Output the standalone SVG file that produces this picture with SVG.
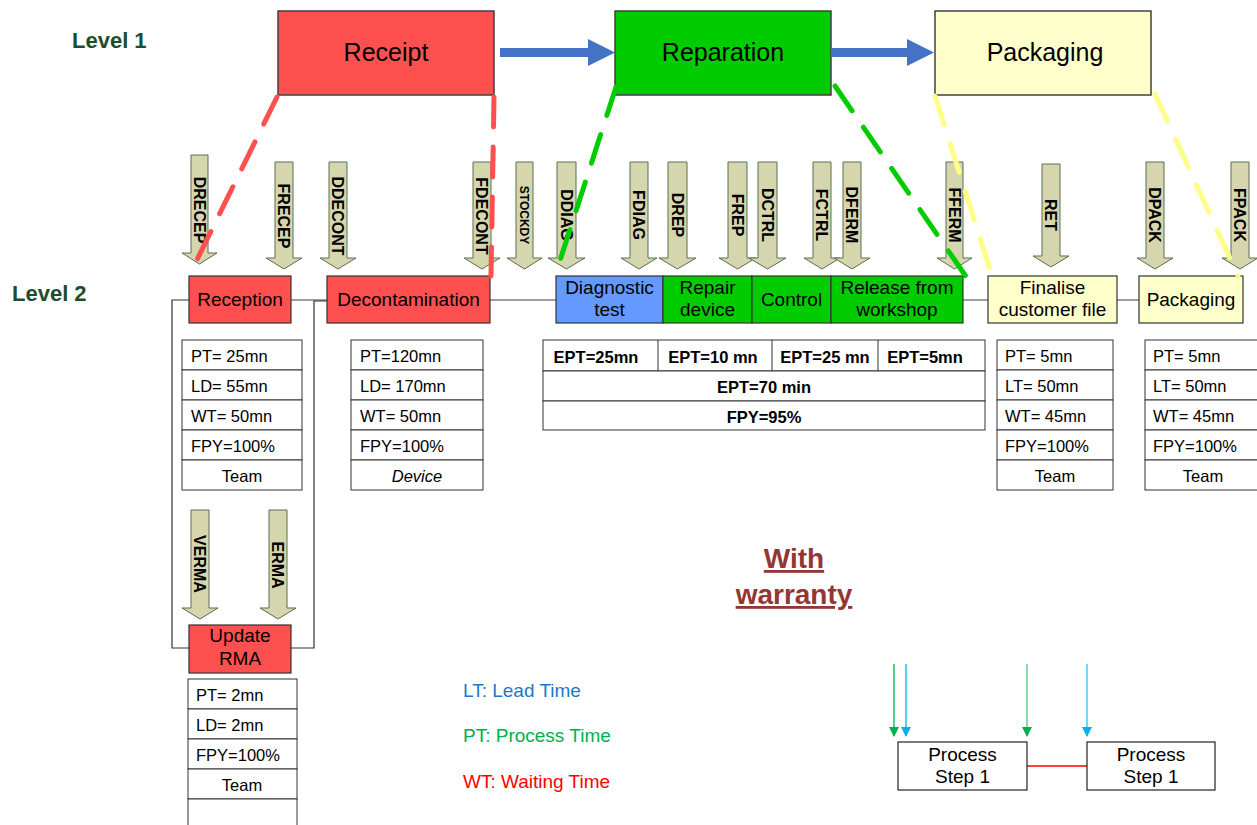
<svg xmlns="http://www.w3.org/2000/svg" width="1257" height="825" viewBox="0 0 1257 825">
<style>
text{font-family:"Liberation Sans",Arial,sans-serif;fill:#000}
.lvl{font-size:22px;font-weight:bold;fill:#1E4D2B}
.l1{fill-opacity:1;stroke:#404040;stroke-width:1.5}
.t1{font-size:25px;text-anchor:middle}
.l2{stroke:#333;stroke-width:1.2}
.t2{font-size:19px;text-anchor:middle}
.red{fill:#FF5050}
.grn{fill:#00CC00}
.blu{fill:#6699FF}
.yel{fill:#FFFFCC}
.cell{fill:#fff;stroke:#333;stroke-width:1}
.ct{font-size:16.5px}
.cc{font-size:16.5px;text-anchor:middle}
.bt{font-size:16.5px;font-weight:bold;text-anchor:middle}
.arr{fill:#D6D6AE;stroke:#5A6E4E;stroke-width:1}
.at{font-size:16px;font-weight:bold;text-anchor:middle}
.ats{font-size:12px;font-weight:bold;text-anchor:middle}
.link{stroke:#808080;stroke-width:1.5;fill:none}
.frame{stroke:#333;stroke-width:1.2;fill:none}
.dash{fill:none;stroke-width:5;stroke-linecap:round;stroke-dasharray:30 20}
.bigarr{fill:#4472C4}
.leg{font-size:19px}
</style>
<defs>
<marker id="mg" markerWidth="10" markerHeight="10" refX="9" refY="5" orient="auto" markerUnits="userSpaceOnUse" viewBox="0 0 10 10"><path d="M0,0 L10,5 L0,10 Z" fill="#00B050"/></marker>
<marker id="mb" markerWidth="10" markerHeight="10" refX="9" refY="5" orient="auto" markerUnits="userSpaceOnUse" viewBox="0 0 10 10"><path d="M0,0 L10,5 L0,10 Z" fill="#00B0F0"/></marker>
</defs>
<rect width="1257" height="825" fill="#fff"/>

<text class="lvl" x="72" y="48">Level 1</text>
<text class="lvl" x="12" y="301">Level 2</text>

<!-- Level 1 nodes -->
<g id="receipt"><rect class="l1 red" x="278" y="11" width="216" height="84"/><text class="t1" x="386" y="61">Receipt</text></g>
<g id="reparation"><rect class="l1 grn" x="615" y="11" width="216" height="84"/><text class="t1" x="723" y="61">Reparation</text></g>
<g id="packaging1"><rect class="l1 yel" x="935" y="11" width="216" height="84"/><text class="t1" x="1045" y="61">Packaging</text></g>

<g id="connectors">
<path class="bigarr" d="M500,48 H588 V39 L615,52.5 L588,66 V57 H500 Z"/>
<path class="bigarr" d="M831,48 H907 V39 L934,52.5 L907,66 V57 H831 Z"/>
<path class="link" d="M291,300 H327 M490,300 H556 M963,300 H988 M1117,300 H1139"/>
<path class="frame" d="M189,300 H172 V648 H189 M291,648 H314 V301 H327"/>
<line x1="1027" y1="766" x2="1087" y2="766" stroke="#FF0000" stroke-width="1.5"/>
<line x1="894" y1="664" x2="894" y2="736" stroke="#00B050" stroke-width="1.3" marker-end="url(#mg)"/>
<line x1="906" y1="664" x2="906" y2="736" stroke="#00B0F0" stroke-width="1.3" marker-end="url(#mb)"/>
<line x1="1027" y1="664" x2="1027" y2="736" stroke="#00B050" stroke-width="1.3" stroke-opacity="0.7" marker-end="url(#mg)"/>
<line x1="1087" y1="664" x2="1087" y2="736" stroke="#00B0F0" stroke-width="1.3" stroke-opacity="0.8" marker-end="url(#mb)"/>
</g>

<!-- Block arrows -->
<g id="arrows">
<g id="a-drecep"><path class="arr" d="M191,155 H208 V253 H217 L199.5,264 L182,253 H191 Z"/><text class="at" transform="translate(199.5,210) rotate(90)" y="5.7">DRECEP</text></g>
<g id="a-frecep"><path class="arr" d="M275,162 H293 V258 H302 L284,269 L266,258 H275 Z"/><text class="at" transform="translate(284,216) rotate(90)" y="5.7">FRECEP</text></g>
<g id="a-ddecont"><path class="arr" d="M329,162 H347 V258 H356 L338,269 L320,258 H329 Z"/><text class="at" transform="translate(338,216) rotate(90)" y="5.7">DDECONT</text></g>
<g id="a-fdecont"><path class="arr" d="M473,162 H491 V258 H500 L482,269 L464,258 H473 Z"/><text class="at" transform="translate(482,216) rotate(90)" y="5.7">FDECONT</text></g>
<g id="a-stockdy"><path class="arr" d="M516,162 H533 V258 H542 L524.5,269 L507,258 H516 Z"/><text class="ats" transform="translate(524.5,215) rotate(90)" y="4.3">STOCKDY</text></g>
<g id="a-ddiag"><path class="arr" d="M557,162 H576 V258 H585 L566.5,269 L548,258 H557 Z"/><text class="at" transform="translate(566.5,215) rotate(90)" y="5.7">DDIAG</text></g>
<g id="a-fdiag"><path class="arr" d="M630,162 H648 V258 H657 L639,269 L621,258 H630 Z"/><text class="at" transform="translate(639,215) rotate(90)" y="5.7">FDIAG</text></g>
<g id="a-drep"><path class="arr" d="M668,162 H687 V258 H696 L677.5,269 L659,258 H668 Z"/><text class="at" transform="translate(677.5,215) rotate(90)" y="5.7">DREP</text></g>
<g id="a-frep"><path class="arr" d="M728,162 H747 V258 H756 L737.5,269 L719,258 H728 Z"/><text class="at" transform="translate(737.5,215) rotate(90)" y="5.7">FREP</text></g>
<g id="a-dctrl"><path class="arr" d="M758,162 H777 V258 H786 L767.5,269 L749,258 H758 Z"/><text class="at" transform="translate(767.5,215) rotate(90)" y="5.7">DCTRL</text></g>
<g id="a-fctrl"><path class="arr" d="M813,162 H831 V258 H840 L822,269 L804,258 H813 Z"/><text class="at" transform="translate(822,215) rotate(90)" y="5.7">FCTRL</text></g>
<g id="a-dferm"><path class="arr" d="M843,162 H861 V258 H870 L852,269 L834,258 H843 Z"/><text class="at" transform="translate(852,215) rotate(90)" y="5.7">DFERM</text></g>
<g id="a-fferm"><path class="arr" d="M946,162 H963 V258 H972 L954.5,269 L937,258 H946 Z"/><text class="at" transform="translate(954.5,215) rotate(90)" y="5.7">FFERM</text></g>
<g id="a-ret"><path class="arr" d="M1042,164 H1060 V256 H1069 L1051,267 L1033,256 H1042 Z"/><text class="at" transform="translate(1051,215) rotate(90)" y="5.7">RET</text></g>
<g id="a-dpack"><path class="arr" d="M1146,162 H1164 V258 H1173 L1155,269 L1137,258 H1146 Z"/><text class="at" transform="translate(1155,215) rotate(90)" y="5.7">DPACK</text></g>
<g id="a-fpack"><path class="arr" d="M1231,162 H1249 V258 H1258 L1240,269 L1222,258 H1231 Z"/><text class="at" transform="translate(1240,215) rotate(90)" y="5.7">FPACK</text></g>
<g id="a-verma"><path class="arr" d="M191,510 H209 V608 H218 L200,619 L182,608 H191 Z"/><text class="at" transform="translate(200,564) rotate(90)" y="5.7">VERMA</text></g>
<g id="a-erma"><path class="arr" d="M269,510 H287 V608 H296 L278,619 L260,608 H269 Z"/><text class="at" transform="translate(278,565) rotate(90)" y="5.7">ERMA</text></g>
</g>

<!-- Level 2 nodes -->
<g id="reception"><rect class="l2 red" x="189" y="276" width="102" height="47"/><text class="t2" x="240" y="306">Reception</text></g>
<g id="decontamination"><rect class="l2 red" x="327" y="276" width="163" height="47"/><text class="t2" x="408.5" y="306">Decontamination</text></g>
<g id="diagnostic"><rect class="l2 blu" x="556" y="276" width="107" height="47"/><text class="t2" x="609.5" y="294">Diagnostic</text><text class="t2" x="609.5" y="316">test</text></g>
<g id="repair"><rect class="l2 grn" x="663" y="276" width="89" height="47"/><text class="t2" x="707.5" y="294">Repair</text><text class="t2" x="707.5" y="316">device</text></g>
<g id="control"><rect class="l2 grn" x="752" y="276" width="79" height="47"/><text class="t2" x="791.5" y="306">Control</text></g>
<g id="release"><rect class="l2 grn" x="831" y="276" width="132" height="47"/><text class="t2" x="897" y="294">Release from</text><text class="t2" x="897" y="316">workshop</text></g>
<g id="finalise"><rect class="l2 yel" x="988" y="276" width="129" height="47"/><text class="t2" x="1052.5" y="294">Finalise</text><text class="t2" x="1052.5" y="316">customer file</text></g>
<g id="packaging2"><rect class="l2 yel" x="1139" y="276" width="104" height="47"/><text class="t2" x="1191" y="306">Packaging</text></g>
<g id="update-rma"><rect class="l2 red" x="189" y="625" width="102" height="48"/><text class="t2" x="240" y="642">Update</text><text class="t2" x="240" y="665">RMA</text></g>

<!-- Tables -->
<g id="tbl-reception">
<rect class="cell" x="182" y="340" width="120" height="30"/><rect class="cell" x="182" y="370" width="120" height="30"/><rect class="cell" x="182" y="400" width="120" height="30"/><rect class="cell" x="182" y="430" width="120" height="30"/><rect class="cell" x="182" y="460" width="120" height="30"/>
<text class="ct" x="191" y="362">PT= 25mn</text><text class="ct" x="191" y="392">LD= 55mn</text><text class="ct" x="191" y="422">WT= 50mn</text><text class="ct" x="191" y="452">FPY=100%</text><text class="cc" x="242" y="482">Team</text>
</g>
<g id="tbl-decon">
<rect class="cell" x="351" y="340" width="132" height="30"/><rect class="cell" x="351" y="370" width="132" height="30"/><rect class="cell" x="351" y="400" width="132" height="30"/><rect class="cell" x="351" y="430" width="132" height="30"/><rect class="cell" x="351" y="460" width="132" height="30"/>
<text class="ct" x="360" y="362">PT=120mn</text><text class="ct" x="360" y="392">LD= 170mn</text><text class="ct" x="360" y="422">WT= 50mn</text><text class="ct" x="360" y="452">FPY=100%</text><text class="cc" x="417" y="482" font-style="italic">Device</text>
</g>
<g id="tbl-ept">
<rect class="cell" x="543" y="340" width="442" height="31"/><rect class="cell" x="543" y="371" width="442" height="30"/><rect class="cell" x="543" y="401" width="442" height="29"/>
<path d="M658,340 V371 M772,340 V371 M878,340 V371" stroke="#333" stroke-width="1"/>
<text class="bt" x="596" y="363">EPT=25mn</text><text class="bt" x="713" y="363">EPT=10 mn</text><text class="bt" x="825" y="363">EPT=25 mn</text><text class="bt" x="925" y="363">EPT=5mn</text>
<text class="bt" x="764" y="393">EPT=70 min</text><text class="bt" x="764" y="423">FPY=95%</text>
</g>
<g id="tbl-finalise">
<rect class="cell" x="997" y="340" width="116" height="30"/><rect class="cell" x="997" y="370" width="116" height="30"/><rect class="cell" x="997" y="400" width="116" height="30"/><rect class="cell" x="997" y="430" width="116" height="30"/><rect class="cell" x="997" y="460" width="116" height="30"/>
<text class="ct" x="1005" y="362">PT= 5mn</text><text class="ct" x="1005" y="392">LT= 50mn</text><text class="ct" x="1005" y="422">WT= 45mn</text><text class="ct" x="1005" y="452">FPY=100%</text><text class="cc" x="1055" y="482">Team</text>
</g>
<g id="tbl-packaging">
<rect class="cell" x="1145" y="340" width="120" height="30"/><rect class="cell" x="1145" y="370" width="120" height="30"/><rect class="cell" x="1145" y="400" width="120" height="30"/><rect class="cell" x="1145" y="430" width="120" height="30"/><rect class="cell" x="1145" y="460" width="120" height="30"/>
<text class="ct" x="1153" y="362">PT= 5mn</text><text class="ct" x="1153" y="392">LT= 50mn</text><text class="ct" x="1153" y="422">WT= 45mn</text><text class="ct" x="1153" y="452">FPY=100%</text><text class="cc" x="1203" y="482">Team</text>
</g>
<g id="tbl-rma">
<rect class="cell" x="188" y="679" width="109" height="30"/><rect class="cell" x="188" y="709" width="109" height="30"/><rect class="cell" x="188" y="739" width="109" height="30"/><rect class="cell" x="188" y="769" width="109" height="30"/><rect class="cell" x="188" y="799" width="109" height="40"/>
<text class="ct" x="196" y="701">PT= 2mn</text><text class="ct" x="196" y="731">LD= 2mn</text><text class="ct" x="196" y="761">FPY=100%</text><text class="cc" x="242" y="791">Team</text>
</g>

<!-- Dashed zoom lines -->
<g id="zoom-lines">
<path class="dash" stroke="#FF5050" d="M277,97 L189,276 M494,97 L491,276"/>
<path class="dash" stroke="#00CC00" d="M616,87 L555,276 M835,86 L967,278"/>
<path class="dash" stroke="#FFFF88" d="M935,96 L992,276 M1155,94 L1238,276"/>
</g>

<!-- Title and legend -->
<g id="title">
<text x="794" y="568" font-size="28" font-weight="bold" text-anchor="middle" style="fill:#943634" text-decoration="underline">With</text>
<text x="794" y="604" font-size="28" font-weight="bold" text-anchor="middle" style="fill:#943634" text-decoration="underline">warranty</text>
</g>
<g id="legend">
<text class="leg" x="463" y="697" style="fill:#1F77C8">LT: Lead Time</text>
<text class="leg" x="463" y="742" style="fill:#00B050">PT: Process Time</text>
<text class="leg" x="463" y="788" style="fill:#FF0000">WT: Waiting Time</text>
</g>
<g id="process1"><rect x="898" y="742" width="129" height="48" fill="#fff" stroke="#222" stroke-width="1.2"/><text class="t2" x="962.5" y="761">Process</text><text class="t2" x="962.5" y="783">Step 1</text></g>
<g id="process2"><rect x="1087" y="742" width="128" height="48" fill="#fff" stroke="#222" stroke-width="1.2"/><text class="t2" x="1151" y="761">Process</text><text class="t2" x="1151" y="783">Step 1</text></g>
</svg>
